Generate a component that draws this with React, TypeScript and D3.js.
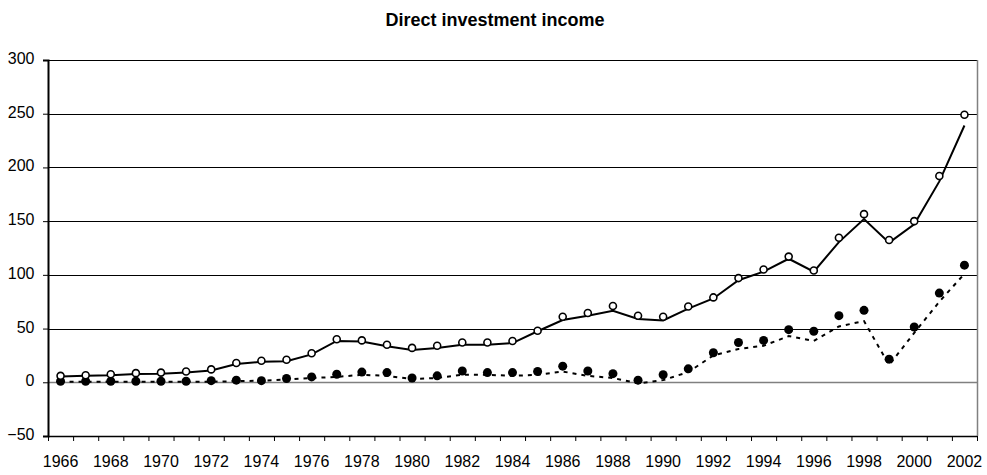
import { useEffect, useRef } from "react";
import * as d3 from "d3";

// years on the category axis
const years: number[] = d3.range(1966, 2003);

// open circles (markers only)
const incomeMarkers: number[] = [
  6, 6.5, 7.5, 8.5, 9, 10, 12, 18, 20, 21, 27, 40, 39, 35, 32, 34, 37, 37, 38.5,
  48, 61, 64.5, 71, 62, 61, 70.5, 79, 97, 105, 117, 104, 134.5, 156.5, 132.5,
  150, 192, 249,
];

// solid line
const incomeLine: number[] = [
  5.5, 6, 6.5, 7.8, 8, 9, 11, 17, 19, 19.5, 26, 38.5, 38, 33.5, 30, 32, 35, 35,
  36.5, 47.5, 58, 62, 66.5, 59, 57.5, 68.5, 78, 95, 103, 115, 103, 130.5, 152,
  130, 147, 187, 239,
];

// filled circles (markers only)
const otherMarkers: number[] = [
  1, 1, 1, 1, 1, 1, 1.5, 2, 1.5, 3.5, 5, 7.5, 9.5, 9, 4, 6, 10.5, 9, 9, 10, 15,
  10.5, 8, 2, 7, 12.5, 27.5, 37, 39, 49, 47.5, 62, 67, 21.5, 51.5, 83, 109,
];

// dashed line
const otherLine: number[] = [
  0.5, 0.5, 0.5, 0.5, 0.5, 0.5, 0.5, 1, 1.5, 2.5, 4, 5, 7, 6, 3, 4, 7, 7, 6, 7,
  10, 6, 4, -1, 2, 9.5, 25, 31, 34, 43, 38.5, 52, 57, 16, 46, 75, 101,
];

const yTicks: number[] = [-50, 0, 50, 100, 150, 200, 250, 300];
const xLabels: number[] = years.filter((y) => y % 2 === 0);

const App = () => {
  const svgRef = useRef<SVGSVGElement | null>(null);

  useEffect(() => {
    if (!svgRef.current) return;
    const svg = d3.select(svgRef.current);
    svg.selectAll("*").remove();

    const left = 48;
    const right = 977;
    const top = 60;
    const bottom = 436;
    const font = "Liberation Sans, Arial, sans-serif";

    const x = d3
      .scaleBand<number>()
      .domain(years)
      .range([left, right])
      .padding(0);
    const cx = (yr: number) => (x(yr) ?? 0) + x.bandwidth() / 2;

    const y = d3.scaleLinear().domain([-50, 300]).range([bottom, top]);

    // title
    svg
      .append("text")
      .attr("x", 495)
      .attr("y", 26)
      .attr("text-anchor", "middle")
      .attr("font-family", font)
      .attr("font-size", 18)
      .attr("font-weight", "bold")
      .text("Direct investment income");

    // gridlines
    svg
      .append("g")
      .selectAll("line")
      .data(yTicks.filter((t) => t !== -50))
      .enter()
      .append("line")
      .attr("x1", left)
      .attr("x2", right)
      .attr("y1", (d) => Math.round(y(d)) + 0.5)
      .attr("y2", (d) => Math.round(y(d)) + 0.5)
      .attr("stroke", (d) => (d === 0 ? "#808080" : "#000"))
      .attr("stroke-width", (d) => (d === 0 ? 1.5 : 1));

    // right border
    svg
      .append("line")
      .attr("x1", right + 0.5)
      .attr("x2", right + 0.5)
      .attr("y1", top)
      .attr("y2", bottom)
      .attr("stroke", "#808080")
      .attr("stroke-width", 1.5);

    // y axis
    const yAxis = svg
      .append("g")
      .attr("transform", `translate(${left},0)`)
      .call(d3.axisLeft(y).tickValues(yTicks).tickSize(5).tickPadding(8.5));
    yAxis.select(".domain").attr("stroke", "#000").attr("stroke-width", 2);
    yAxis.selectAll(".tick line").attr("stroke", "#000");
    yAxis
      .selectAll("text")
      .attr("font-family", font)
      .attr("font-size", 16)
      .attr("dy", "0.22em")
      .attr("fill", "#000");

    // x axis: ticks between categories, labels on every second year
    const xg = svg.append("g");
    xg.append("line")
      .attr("x1", left)
      .attr("x2", right)
      .attr("y1", bottom + 0.5)
      .attr("y2", bottom + 0.5)
      .attr("stroke", "#000")
      .attr("stroke-width", 1.5);
    xg.selectAll(".tk")
      .data(years.concat([2003]))
      .enter()
      .append("line")
      .attr("x1", (d) => (d === 2003 ? right : x(d) ?? 0) + 0.5)
      .attr("x2", (d) => (d === 2003 ? right : x(d) ?? 0) + 0.5)
      .attr("y1", bottom)
      .attr("y2", bottom + 5)
      .attr("stroke", "#000");
    xg.selectAll("text")
      .data(xLabels)
      .enter()
      .append("text")
      .attr("x", (d) => cx(d))
      .attr("y", 467)
      .attr("text-anchor", "middle")
      .attr("font-family", font)
      .attr("font-size", 16)
      .text((d) => String(d));

    const line = d3
      .line<number>()
      .x((_, i) => cx(years[i]))
      .y((d) => y(d));

    svg
      .append("path")
      .datum(otherLine)
      .attr("d", line)
      .attr("fill", "none")
      .attr("stroke", "#000")
      .attr("stroke-width", 2)
      .attr("stroke-dasharray", "4,5");

    svg
      .append("path")
      .datum(incomeLine)
      .attr("d", line)
      .attr("fill", "none")
      .attr("stroke", "#000")
      .attr("stroke-width", 2);

    svg
      .append("g")
      .selectAll("circle")
      .data(otherMarkers)
      .enter()
      .append("circle")
      .attr("cx", (_, i) => cx(years[i]))
      .attr("cy", (d) => y(d))
      .attr("r", 4.5)
      .attr("fill", "#000");

    svg
      .append("g")
      .selectAll("circle")
      .data(incomeMarkers)
      .enter()
      .append("circle")
      .attr("cx", (_, i) => cx(years[i]))
      .attr("cy", (d) => y(d))
      .attr("r", 3.5)
      .attr("fill", "#fff")
      .attr("stroke", "#000")
      .attr("stroke-width", 1.6);
  }, []);

  return (
    <svg
      ref={svgRef}
      width={987}
      height={475}
      style={{ position: "absolute", left: 0, top: 0, background: "#fff" }}
    ></svg>
  );
};

export default App;
